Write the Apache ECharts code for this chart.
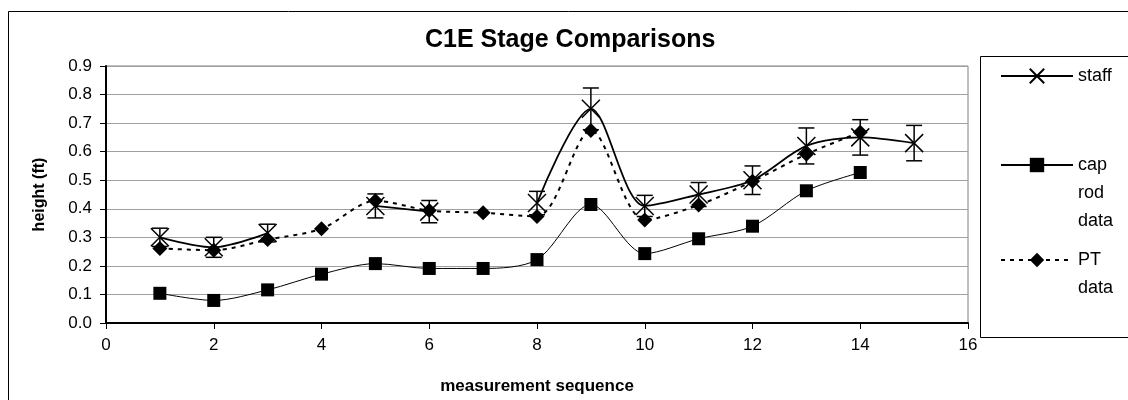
<!DOCTYPE html>
<html>
<head>
<meta charset="utf-8" />
<script type="text/javascript" src="https://cdn.jsdelivr.net/npm/echarts@6/dist/echarts.min.js"></script>
<title>C1E Stage Comparisons</title>
<style>
  html, body { margin: 0; padding: 0; background: #fff; }
</style>
</head>
<body>
<div id="main" style="width:1128px;height:400px"></div>
<script type="text/javascript">
// measurement sequence numbers
var seq = [1, 2, 3, 4, 5, 6, 7, 8, 9, 10, 11, 12, 13, 14, 15];
// staff readings (null = no reading) and their error bar half-heights
var staff = [0.30, 0.265, 0.315, null, 0.41, 0.39, null, 0.42, 0.75, 0.41, 0.45, 0.50, 0.62, 0.65, 0.63];
var staffErr = [0.032, 0.035, 0.031, null, 0.042, 0.039, null, 0.041, 0.073, 0.037, 0.042, 0.05, 0.063, 0.062, 0.062];
var capRod = [0.104, 0.079, 0.116, 0.171, 0.208, 0.191, 0.191, 0.222, 0.415, 0.243, 0.295, 0.339, 0.463, 0.527];
var ptData = [0.261, 0.255, 0.292, 0.330, 0.428, 0.394, 0.386, 0.373, 0.674, 0.361, 0.413, 0.496, 0.591, 0.668];
var xTicks = { min: 0, max: 16, step: 2 };
var yTicks = { min: 0, max: 0.9, step: 0.1 };

var font = 'Liberation Sans, Arial, sans-serif';
var myChart = echarts.init(document.getElementById('main'), null, { renderer: 'canvas' });

function pairs(vals) {
  var out = [];
  for (var i = 0; i < vals.length; i++) out.push([seq[i], vals[i]]);
  return out;
}
var errData = [];
for (var i = 0; i < staff.length; i++) {
  if (staff[i] == null) continue;
  errData.push([seq[i], staff[i] - staffErr[i], staff[i] + staffErr[i]]);
}

var xMark = 'path://M0,0L10,10M10,0L0,10';
// legend labels wrap; leading blank lines keep the first word level with the icon
var legendText = { 'staff': 'staff', 'cap rod data': '\n\ncap\nrod\ndata', 'PT data': '\nPT\ndata' };

function legendOf(name, top) {
  return {
    data: [name], orient: 'vertical', left: 1000, top: top, padding: 0,
    itemWidth: 72, itemHeight: 18, itemGap: 0,
    formatter: function (n) { return legendText[n]; },
    textStyle: { fontFamily: font, fontSize: 18, color: '#000', lineHeight: 28 }
  };
}

var option = {
  backgroundColor: '#fff',
  animation: false,
  title: {
    text: 'C1E Stage Comparisons',
    left: 425, top: 28, padding: 0,
    textStyle: { fontFamily: font, fontSize: 25, fontWeight: 'bold', color: '#000' }
  },
  grid: {
    left: 106, right: 160, top: 66, bottom: 75,
    show: true, borderColor: '#808080', borderWidth: 1, backgroundColor: '#fff'
  },
  legend: [
    legendOf('staff', 62),
    legendOf('cap rod data', 95),
    legendOf('PT data', 218)
  ],
  graphic: [
    { type: 'rect', silent: true, z: -1, shape: { x: 8.5, y: 11.5, width: 1300, height: 600 },
      style: { fill: 'none', stroke: '#000', lineWidth: 1 } },
    { type: 'rect', silent: true, z: -1, shape: { x: 980.5, y: 56.5, width: 300, height: 281 },
      style: { fill: '#fff', stroke: '#000', lineWidth: 1 } }
  ],
  xAxis: {
    type: 'value', min: xTicks.min, max: xTicks.max, interval: xTicks.step,
    name: 'measurement sequence', nameLocation: 'middle', nameGap: 55,
    nameTextStyle: { fontFamily: font, fontSize: 17, fontWeight: 'bold', color: '#000' },
    axisLine: { show: true, lineStyle: { color: '#000', width: 2 } },
    axisTick: { show: true, inside: false, length: 6, lineStyle: { color: '#000', width: 1 } },
    axisLabel: { fontFamily: font, fontSize: 17, color: '#000', margin: 14 },
    splitLine: { show: false }
  },
  yAxis: {
    type: 'value', min: yTicks.min, max: yTicks.max, interval: yTicks.step,
    name: 'height (ft)', nameLocation: 'middle', nameGap: 58,
    nameTextStyle: { fontFamily: font, fontSize: 16, fontWeight: 'bold', color: '#000' },
    axisLine: { show: true, lineStyle: { color: '#000', width: 2 } },
    axisTick: { show: true, inside: false, length: 6, lineStyle: { color: '#000', width: 1 } },
    axisLabel: { fontFamily: font, fontSize: 17, color: '#000', margin: 14,
      formatter: function (v) { return v.toFixed(1); } },
    splitLine: { show: true, lineStyle: { color: '#a0a0a0', width: 1 } }
  },
  series: [
    {
      name: 'cap rod data', type: 'line', data: pairs(capRod), smooth: 0.3,
      symbol: 'rect', symbolSize: 13, showAllSymbol: true,
      lineStyle: { color: '#000', width: 1 },
      itemStyle: { color: '#000' }, z: 2
    },
    {
      name: 'PT data', type: 'line', data: pairs(ptData), smooth: 0.3,
      symbol: 'diamond', symbolSize: 15, showAllSymbol: true,
      lineStyle: { color: '#000', width: 2, type: [4, 5] },
      itemStyle: { color: '#000' }, z: 3
    },
    {
      name: 'staff', type: 'line', data: pairs(staff), smooth: 0.3, connectNulls: false,
      symbol: xMark, symbolSize: 18, showAllSymbol: true,
      lineStyle: { color: '#000', width: 1.8 },
      itemStyle: { color: 'transparent', borderColor: '#000', borderWidth: 1.5 }, z: 4
    },
    {
      name: 'staff error', type: 'custom', data: errData, z: 4,
      encode: { x: 0, y: [1, 2] },
      renderItem: function (params, api) {
        var lo = api.coord([api.value(0), api.value(1)]);
        var hi = api.coord([api.value(0), api.value(2)]);
        var w = 8;
        var st = { stroke: '#000', lineWidth: 1.5 };
        return {
          type: 'group',
          children: [
            { type: 'line', shape: { x1: lo[0], y1: lo[1], x2: hi[0], y2: hi[1] }, style: st },
            { type: 'line', shape: { x1: lo[0] - w, y1: lo[1], x2: lo[0] + w, y2: lo[1] }, style: st },
            { type: 'line', shape: { x1: hi[0] - w, y1: hi[1], x2: hi[0] + w, y2: hi[1] }, style: st }
          ]
        };
      }
    }
  ]
};
myChart.setOption(option);
</script>
</body>
</html>
